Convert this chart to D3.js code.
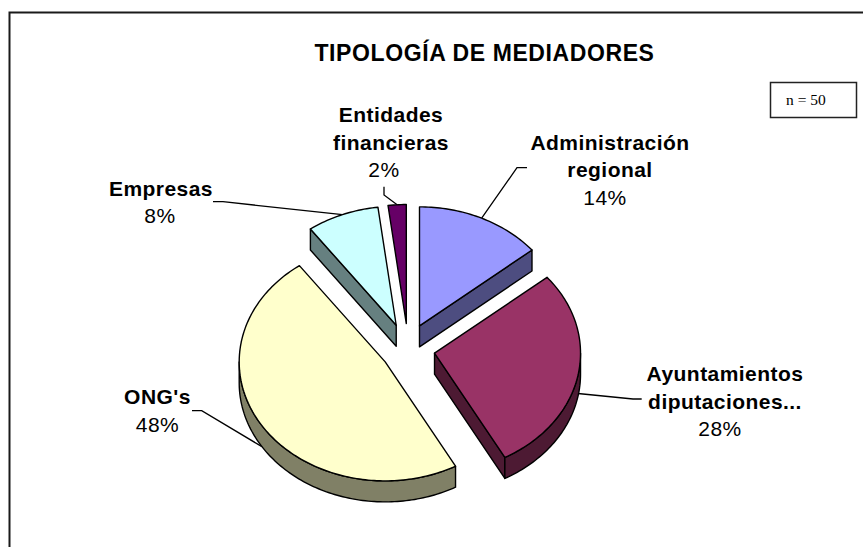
<!DOCTYPE html>
<html><head><meta charset="utf-8">
<script src="https://cdn.jsdelivr.net/npm/d3@7/dist/d3.min.js"></script>
<style>html,body{margin:0;padding:0;background:#fff}svg{display:block}</style></head>
<body><svg id="c" width="863" height="547"></svg>
<script>
// data
const categories = ["Administración regional","Ayuntamientos diputaciones...","ONG's","Empresas","Entidades financieras"];
const values = [14,28,48,8,2];
const topColors = ["#9999FF","#993366","#FFFFCC","#CCFFFF","#660066"];
const wallColors = ["#4D4D80","#4D1A33","#808066","#668080","#330033"];
const titleText = "TIPOLOGÍA DE MEDIADORES";
const noteText = "n = 50";
// layout
const W=863,H=547,cx=408,cy=348.5,rx=146,ry=119,depth=21;
const explodeX=[27,27,27,32,27], explodeY=[25,25,25,25,25];
const font="'Liberation Sans',Arial,sans-serif";
// label layout: centre x, first baseline, per-line x offset
const labelLines=[["Administración","regional"],["Ayuntamientos","diputaciones..."],["ONG's"],["Empresas"],["Entidades","financieras"]];
const labelPos=[{x:610,y:149.5,p:-5},{x:725,y:381,p:-5},{x:157.5,y:404,p:0},{x:161,y:195.5,p:-1},{x:391,y:122,p:-7}];
const leaderElbow=[[[527,167.7],[517,167.7]],[[641.7,399],[633,399]],[[192,410.7],[201.7,410.7]],[[213,201.7],[223,201.7]],[[384,186.7],[384,195]]];

const svg=d3.select("#c");
const line=d3.line();
// frame
svg.append("path").attr("d",line([[9.5,H],[9.5,12.5],[W,12.5]])).attr("fill","none").attr("stroke","#1a1a1a").attr("stroke-width",2);
// title
svg.append("text").attr("x",484.5).attr("y",61).attr("text-anchor","middle").attr("font-family",font)
  .attr("font-weight","bold").attr("font-size",23).attr("letter-spacing",0.6).attr("fill","#000").text(titleText);
// note box
svg.append("rect").attr("x",770.5).attr("y",82.5).attr("width",86).attr("height",35).attr("fill","#fff").attr("stroke","#222").attr("stroke-width",1.5);
svg.append("text").attr("x",786).attr("y",104.5).attr("font-family","'Liberation Serif','Times New Roman',serif").attr("font-size",15.5).attr("fill","#000").text(noteText);

const pie=d3.pie().sort(null).value(d=>d);
const arcs=pie(values);
const pt=(s,a,r=1)=>[s.ax+rx*r*Math.sin(a),s.ay-ry*r*Math.cos(a)];
const down=p=>[p[0],p[1]+depth];
const sampled=(a0,a1)=>{const n=Math.max(2,Math.ceil((a1-a0)/0.02));return d3.range(n+1).map(i=>a0+(a1-a0)*i/n);};
const slices=arcs.map((d,i)=>{const mid=(d.startAngle+d.endAngle)/2;
  return {...d,i,mid,ax:cx+explodeX[i]*Math.sin(mid),ay:cy-explodeY[i]*Math.cos(mid)};});

// leaders
slices.forEach((s,i)=>{
  const rim=pt(s,s.mid); const end=Math.cos(s.mid)<0?[rim[0],rim[1]+(i===1?18:depth)]:rim;
  svg.append("path").attr("d",line([...leaderElbow[i],end])).attr("fill","none").attr("stroke","#000").attr("stroke-width",1.3);
});
// slices
slices.forEach((s,i)=>{
  const g=svg.append("g");
  const apex=[s.ax,s.ay];
  const wall=(pts)=>g.append("path").attr("d",line(pts)+"Z").attr("fill",wallColors[i]).attr("stroke","#000").attr("stroke-width",1.4).attr("stroke-linejoin","round");
  // radial walls facing the viewer
  if(Math.sin(s.endAngle)>0.2 && Math.cos(s.endAngle)<0.9){const e=pt(s,s.endAngle);wall([apex,e,down(e),down(apex)]);}
  if(Math.sin(s.startAngle)<-0.2){const e=pt(s,s.startAngle);wall([apex,e,down(e),down(apex)]);}
  // outer rim wall for the part of the arc facing downward
  const a0=Math.max(s.startAngle,Math.PI/2),a1=Math.min(s.endAngle,3*Math.PI/2);
  if(a1>a0){const rim=sampled(a0,a1).map(a=>pt(s,a));wall([...rim,...rim.slice().reverse().map(down)]);}
  const top=[apex,...sampled(s.startAngle,s.endAngle).map(a=>pt(s,a))];
  g.append("path").attr("d",line(top)+"Z").attr("fill",topColors[i]).attr("stroke","#000").attr("stroke-width",1.4).attr("stroke-linejoin","round");
});
// labels
slices.forEach((s,i)=>{
  const P=labelPos[i],L=labelLines[i];
  L.forEach((t,k)=>svg.append("text").attr("x",P.x).attr("y",P.y+k*27.7).attr("text-anchor","middle").attr("font-family",font)
    .attr("font-weight","bold").attr("font-size",21).attr("letter-spacing",0.45).attr("fill","#000").text(t));
  svg.append("text").attr("x",P.x+P.p).attr("y",P.y+L.length*27.7).attr("text-anchor","middle").attr("font-family",font)
    .attr("font-size",21).attr("letter-spacing",0.45).attr("fill","#000").text(values[i]+"%");
});
</script></body></html>
